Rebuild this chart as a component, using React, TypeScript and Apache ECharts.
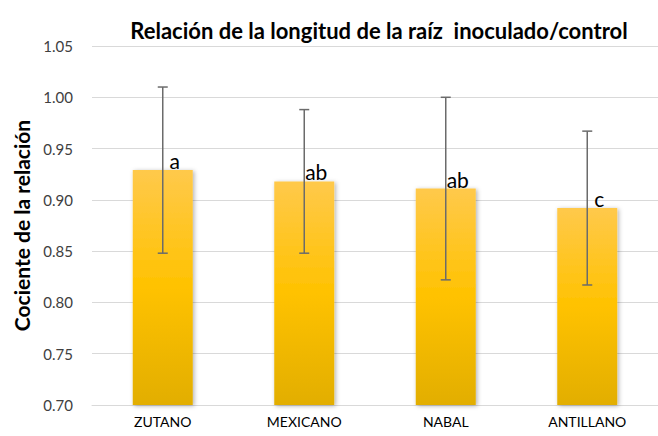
import React, { useEffect, useRef } from "react";
import * as echarts from "echarts";

const categories = ["ZUTANO", "MEXICANO", "NABAL", "ANTILLANO"];
const ratios = [0.929, 0.918, 0.911, 0.892];
const errors = [0.081, 0.07, 0.089, 0.075];
const letters = ["a", "ab", "ab", "c"];
const yMin = 0.7;
const yMax = 1.05;
const yStep = 0.05;

const FONT = "Lato, 'Open Sans', sans-serif";

export default function App() {
  const ref = useRef<HTMLDivElement>(null);
  useEffect(() => {
    if (!ref.current) return;
    const chart = echarts.init(ref.current, undefined, { renderer: "svg" });
    const gradient = new echarts.graphic.LinearGradient(0, 0, 0, 1, [
      { offset: 0, color: "#FFC94B" },
      { offset: 0.5, color: "#FFC200" },
      { offset: 1, color: "#E2AE00" },
    ]);
    const errData = categories.map((_, i) => [i, ratios[i], errors[i]]);
    const letterData = categories.map((_, i) => [i, ratios[i], i]);
    chart.setOption({
      animation: false,
      backgroundColor: "#ffffff",
      title: {
        text: "Relación de la longitud de la raíz  inoculado/control",
        left: 374,
        top: 14,
        textAlign: "center",
        textStyle: { fontFamily: FONT, fontSize: 22, fontWeight: "bold", color: "#000000" },
      },
      grid: { left: 92, top: 46, bottom: 31, width: 578 },
      xAxis: {
        type: "category",
        data: categories,
        axisLine: { show: true, lineStyle: { color: "#d9d9d9", width: 1 } },
        axisTick: { show: false },
        axisLabel: { color: "#000000", fontFamily: FONT, fontSize: 14, margin: 9 },
      },
      yAxis: {
        type: "value",
        min: yMin,
        max: yMax,
        interval: yStep,
        name: "Cociente de la relación",
        nameLocation: "middle",
        nameGap: 60,
        nameTextStyle: { fontFamily: FONT, fontSize: 21, fontWeight: "bold", color: "#000000" },
        axisLine: { show: false },
        axisTick: { show: false },
        splitLine: { lineStyle: { color: "#d9d9d9", width: 1 } },
        axisLabel: {
          color: "#404040",
          fontFamily: FONT,
          fontSize: 15,
          margin: 19,
          formatter: (v: number) => v.toFixed(2),
        },
      },
      series: [
        {
          type: "bar",
          data: ratios,
          barWidth: 60,
          itemStyle: {
            color: gradient,
            shadowColor: "rgba(0,0,0,0.3)",
            shadowBlur: 4,
            shadowOffsetX: 1.5,
            shadowOffsetY: 1,
          },
          z: 2,
        },
        {
          type: "custom",
          data: letterData,
          encode: { x: 0, y: 1 },
          z: 3,
          renderItem: (params: any, api: any) => {
            const i = api.value(0);
            const p = api.coord([i, api.value(1)]);
            return {
              type: "text",
              x: p[0] + 12,
              y: p[1] + 1,
              style: {
                text: letters[api.value(2)],
                fill: "#000000",
                font: `21px ${FONT}`,
                align: "center",
                verticalAlign: "bottom",
              },
            };
          },
        },
        {
          type: "custom",
          data: errData,
          encode: { x: 0, y: 1 },
          z: 4,
          renderItem: (params: any, api: any) => {
            const i = api.value(0);
            const v = api.value(1);
            const e = api.value(2);
            const top = api.coord([i, v + e]);
            const bot = api.coord([i, v - e]);
            const x = top[0];
            const style = { stroke: "#6b6b6b", lineWidth: 1.5 };
            return {
              type: "group",
              children: [
                { type: "line", shape: { x1: x, y1: top[1], x2: x, y2: bot[1] }, style },
                { type: "line", shape: { x1: x - 5, y1: top[1], x2: x + 5, y2: top[1] }, style },
                { type: "line", shape: { x1: x - 5, y1: bot[1], x2: x + 5, y2: bot[1] }, style },
              ],
            };
          },
        },
      ],
    });
    return () => chart.dispose();
  }, []);
  return (
    <div
      ref={ref}
      style={{ position: "absolute", left: 0, top: 0, width: 658, height: 436, background: "#fff" }}
    />
  );
}
